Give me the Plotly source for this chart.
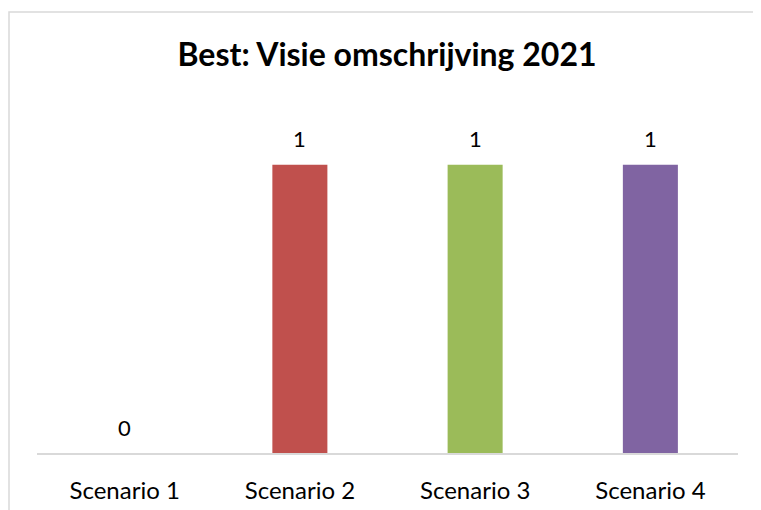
import plotly.graph_objects as go

categories = ["Scenario 1", "Scenario 2", "Scenario 3", "Scenario 4"]
values = [0, 1, 1, 1]
colors = ["#4F81BD", "#C0504D", "#9BBB59", "#8064A2"]
title_text = "Best: Visie omschrijving 2021"

FONT = "Lato"
# page body has an 8px margin, so the figure is offset by 8px
W, H = 753, 502
L, R, T, B = 29, 23, 99, 57
PW, PH = W - L - R, H - T - B

fig = go.Figure()
fig.add_trace(go.Bar(
    x=categories, y=values, marker=dict(color=colors, line=dict(width=0)),
    hoverinfo="skip", showlegend=False,
))

for c, v in zip(categories, values):
    fig.add_annotation(x=c, y=v, text=str(v), showarrow=False, yshift=26,
                       font=dict(family=FONT, size=22, color="#000000"))

fig.update_layout(
    width=W, height=H,
    margin=dict(l=L, r=R, t=T, b=B, autoexpand=False),
    paper_bgcolor="white", plot_bgcolor="white",
    bargap=0.686,
    title=dict(text="<b>" + title_text + "</b>", x=379 / W, xanchor="center",
               y=1 - 47 / H, yanchor="middle",
               font=dict(family=FONT, size=32, color="#000000")),
    xaxis=dict(showline=True, linecolor="#D9D9D9", linewidth=1.5,
               showgrid=False, zeroline=False, ticks="outside", ticklen=15,
               tickcolor="rgba(0,0,0,0)", automargin=False,
               tickfont=dict(family=FONT, size=24, color="#000000")),
    yaxis=dict(range=[0, 1.2], visible=False, showgrid=False, zeroline=False),
    shapes=[dict(type="rect", xref="paper", yref="paper",
                 x0=(1 - L) / PW, x1=1.2, y0=-0.3, y1=(PH + T - 4) / PH,
                 line=dict(color="#D9D9D9", width=1.5), fillcolor="rgba(0,0,0,0)")],
)

fig.write_html("out.html")
